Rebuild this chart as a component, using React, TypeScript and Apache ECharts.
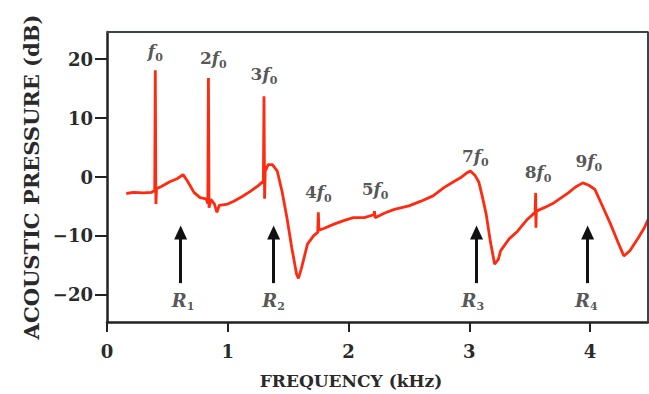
import React, { useEffect, useRef } from "react";
import * as echarts from "echarts";

const freqKHz = [
  0.16, 0.22, 0.3, 0.37, 0.395, 0.4, 0.405, 0.41, 0.45, 0.52, 0.58, 0.63, 0.67, 0.72, 0.77, 0.82, 0.835, 0.84, 0.845,
  0.86, 0.89, 0.91, 0.93, 1.0, 1.05, 1.12, 1.19, 1.25, 1.295, 1.3, 1.305, 1.31, 1.335, 1.37, 1.41, 1.45, 1.49, 1.53,
  1.57, 1.585, 1.61, 1.66, 1.71, 1.745, 1.75, 1.755, 1.8, 1.88, 1.96, 2.04, 2.13, 2.21, 2.215, 2.22, 2.3, 2.38, 2.5,
  2.6, 2.7, 2.79, 2.87, 2.93, 2.98, 3.01, 3.05, 3.08, 3.11, 3.14, 3.175, 3.21, 3.24, 3.26, 3.33, 3.4, 3.48, 3.545,
  3.55, 3.552, 3.555, 3.62, 3.7, 3.82, 3.88, 3.94, 3.99, 4.04, 4.1, 4.17, 4.23, 4.28, 4.33, 4.4, 4.45, 4.48,
];
const pressureDb = [
  -2.8, -2.6, -2.7, -2.6, -2.3, 18.1, -4.6, -2.0, -1.6, -0.8, -0.3, 0.4, -0.8, -2.6, -3.5, -3.7, -4.5, 16.8, -5.2,
  -3.8, -4.6, -6.0, -4.8, -4.6, -4.1, -3.3, -2.4, -1.5, -0.7, 13.7, -3.7, 1.0, 2.1, 2.1, 1.0, -2.5, -6.9, -12.0,
  -16.5, -17.2, -15.5, -11.4, -10.0, -9.4, -6.0, -9.0, -8.7, -8.0, -7.4, -6.9, -6.9, -6.4, -5.8, -6.9, -6.1, -5.5, -4.9,
  -4.1, -3.2, -1.8, -0.8, -0.1, 0.7, 1.0, 0.2, -0.9, -3.5, -6.3, -11.0, -14.8, -14.0, -12.5, -10.5, -9.2, -7.2, -6.0,
  -2.7, -8.6, -5.8, -5.2, -4.4, -2.7, -1.7, -1.0, -1.4, -2.1, -4.8, -8.0, -11.0, -13.4, -12.5, -10.3, -8.6, -7.2,
];

const harmonicMultipliers = ["", "2", "3", "4", "5", "7", "8", "9"];
const harmonicLabelX = [0.4, 0.88, 1.3, 1.75, 2.22, 3.05, 3.57, 3.99];
const harmonicLabelY = [21.4, 20.2, 17.5, -2.5, -2.0, 3.6, 0.85, 2.7];

const resonanceIndex = ["1", "2", "3", "4"];
const resonanceX = [0.61, 1.38, 3.06, 3.98];
const resonanceLabelX = [0.63, 1.38, 3.03, 3.97];
const resonanceLabelY = -20.9;
const arrowTailY = -18.0;
const arrowTipY = -9.4;

const xTicks = [0, 1, 2, 3, 4];
const yTicks = [-20, -10, 0, 10, 20];
const X_MIN = 0;
const X_MAX = 4.48;
const Y_MIN = -24.6;
const Y_MAX = 24.6;

const SERIF = "'DejaVu Serif', 'Liberation Serif', serif";
const INK = "#2a2a2a";

export default function App() {
  const ref = useRef<HTMLDivElement>(null);
  useEffect(() => {
    if (!ref.current) return;
    const chart = echarts.init(ref.current, undefined, { renderer: "svg" });
    const curve = freqKHz.map((f, i) => [f, pressureDb[i]]);
    const rich = {
      n: { fontFamily: SERIF, fontSize: 17, fontWeight: "bold", color: INK, lineHeight: 24 },
      f: { fontFamily: SERIF, fontSize: 17, fontStyle: "italic", fontWeight: "bold", color: INK, lineHeight: 24 },
      r: { fontFamily: SERIF, fontSize: 18, fontStyle: "italic", fontWeight: "bold", color: INK, lineHeight: 24 },
      s: { fontFamily: SERIF, fontSize: 11, fontWeight: "bold", color: INK, lineHeight: 11, verticalAlign: "bottom" },
    };
    chart.setOption({
      animation: false,
      backgroundColor: "#ffffff",
      grid: { left: 107, right: 1, top: 32, bottom: 72 },
      xAxis: {
        type: "value",
        min: X_MIN,
        max: X_MAX,
        axisLine: { show: true, onZero: false, lineStyle: { color: "#222", width: 2.5 } },
        axisTick: { show: true, customValues: xTicks, length: 10, lineStyle: { color: "#222", width: 2 } },
        axisLabel: {
          customValues: xTicks,
          fontFamily: SERIF,
          fontWeight: "bold",
          fontSize: 18,
          color: INK,
          margin: 20,
        },
        splitLine: { show: false },
        name: "FREQUENCY (kHz)",
        nameLocation: "middle",
        nameGap: 50,
        nameTextStyle: {
          fontFamily: SERIF,
          fontWeight: "bold",
          fontSize: 17,
          color: INK,
          padding: [0, 53, 0, 0],
        },
      },
      yAxis: {
        type: "value",
        min: Y_MIN,
        max: Y_MAX,
        axisLine: { show: true, onZero: false, lineStyle: { color: "#222", width: 2.5 } },
        axisTick: { show: true, customValues: yTicks, length: 12, lineStyle: { color: "#222", width: 2 } },
        axisLabel: {
          customValues: yTicks,
          fontFamily: SERIF,
          fontWeight: "bold",
          fontSize: 18,
          color: INK,
          margin: 14,
          formatter: (v: number) => (v < 0 ? "\u2212" + Math.abs(v) : String(v)),
        },
        splitLine: { show: false },
        name: "ACOUSTIC PRESSURE (dB)",
        nameLocation: "middle",
        nameRotate: 90,
        nameGap: 62,
        nameTextStyle: { fontFamily: SERIF, fontWeight: "bold", fontSize: 21, color: INK },
      },
      series: [
        {
          type: "line",
          name: "frame",
          data: [
            [X_MIN, Y_MAX],
            [X_MAX, Y_MAX],
            [X_MAX, Y_MIN],
          ],
          clip: false,
          symbol: "none",
          showSymbol: false,
          silent: true,
          lineStyle: { color: "#3a4450", width: 2 },
          z: 5,
        },
        {
          type: "line",
          name: "pressure",
          data: curve,
          showSymbol: false,
          symbol: "none",
          lineStyle: { color: "#ff2a10", width: 2.8 },
          silent: true,
          z: 3,
        },
        {
          type: "scatter",
          name: "harmonics",
          symbolSize: 0,
          silent: true,
          data: harmonicLabelX.map((x, i) => [x, harmonicLabelY[i]]),
          label: {
            show: true,
            position: "inside",
            formatter: (p: any) => {
              const m = harmonicMultipliers[p.dataIndex];
              return (m ? `{n|${m}}` : "") + "{f|f}{s|0}";
            },
            rich,
          },
          z: 4,
        },
        {
          type: "scatter",
          name: "resonances",
          symbolSize: 0,
          silent: true,
          data: resonanceLabelX.map((x) => [x, resonanceLabelY]),
          label: {
            show: true,
            position: "inside",
            formatter: (p: any) => `{r|R}{s|${resonanceIndex[p.dataIndex]}}`,
            rich,
          },
          markLine: {
            silent: true,
            symbol: ["none", "triangle"],
            symbolSize: [13, 14],
            label: { show: false },
            lineStyle: { color: "#111", width: 3, type: "solid" },
            emphasis: { disabled: true },
            data: resonanceX.map((x) => [
              { coord: [x, arrowTailY] },
              { coord: [x, arrowTipY] },
            ]),
          },
          z: 4,
        },
      ],
    });
    return () => chart.dispose();
  }, []);
  return <div ref={ref} style={{ width: 649, height: 394, position: "absolute", left: 0, top: 0 }} />;
}
